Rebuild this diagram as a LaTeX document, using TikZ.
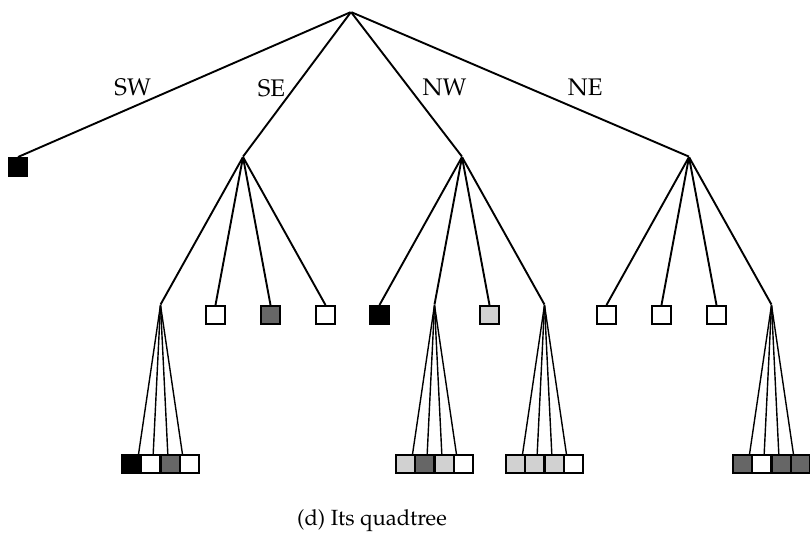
\documentclass[tikz,border=0pt]{standalone}
\usepackage[T1]{fontenc}
\usepackage{mathpazo}
\usetikzlibrary{calc}
\begin{document}
\begin{tikzpicture}[font=\fontsize{12}{14}\selectfont, child anchor=north,
    edge from parent/.style={draw, line width=0.95pt}]
      \tikzstyle{branch node}=[inner sep=0, minimum size=0]
      \tikzstyle{quad}=[draw, line width=0.9pt, minimum size=9.2pt, inner sep=0, anchor=north]
      \tikzstyle{black quad}=[quad, fill=black]
      \tikzstyle{white quad}=[quad, fill=white]
      \tikzstyle{dark quad}=[quad, fill=black!60]
      \tikzstyle{light quad}=[quad, fill=black!18]
      \tikzstyle{level 1}=[level distance=72.5pt, sibling distance=111pt]
      \tikzstyle{level 2}=[level distance=74pt, sibling distance=27.5pt]
      % leaf rows: the four edges meet the squares a bit inward
      \tikzstyle{level 3}=[level distance=74.5pt, sibling distance=9.75pt,
          edge from parent/.style={draw, line width=0.7pt},
          edge from parent path={(\tikzparentnode) --
              ($(\tikzchildnode.north)!.25!(\tikzparentnode |- \tikzchildnode.north)$)}]

      \useasboundingbox (0,0) rectangle (405pt,-268.5pt);

      \node(0)[branch node] at (175.5pt,-6pt) {}
          child{node(1)[black quad]{}
              edge from parent node[pos=.6, anchor=south east, inner sep=1pt, xshift=1.5pt]{SW}
          }
          child[xshift=1.5pt]{node(2)[branch node]{}
              child{node(21)[branch node]{}
                  child{node[black quad]{}}
                  child{node[white quad]{}}
                  child{node[dark quad]{}}
                  child{node[white quad]{}}
              }
              child{node(22)[white quad]{}}
              child{node(23)[dark quad]{}}
              child{node(24)[white quad]{}}
              edge from parent node[pos=.61, anchor=south east, inner sep=1pt, xshift=1.5pt]{SE}
          }
          child{node(3)[branch node]{}
              child{node(31)[black quad]{}}
              child{node(32)[branch node]{}
                  child{node[light quad]{}}
                  child{node[dark quad]{}}
                  child{node[light quad]{}}
                  child{node[white quad]{}}
              }
              child{node(33)[light quad]{}}
              child{node(34)[branch node]{}
                  child{node[light quad]{}}
                  child{node[light quad]{}}
                  child{node[light quad]{}}
                  child{node[white quad]{}}
              }
              edge from parent node[pos=.6, anchor=south west, inner sep=1pt, xshift=1pt]{NW}
          }
          child[xshift=2.5pt]{node(4)[branch node]{}
              child{node(41)[white quad]{}}
              child{node(42)[white quad]{}}
              child{node(43)[white quad]{}}
              child{node(44)[branch node]{}
                  child{node[dark quad]{}}
                  child{node[white quad]{}}
                  child{node[dark quad]{}}
                  child{node[dark quad]{}}
              }
              edge from parent node[pos=.6, anchor=south west, inner sep=1pt, xshift=5.5pt]{NE}
          };

      \node(cap)[font=\fontsize{11}{13}\selectfont] at (186pt,-260.5pt) {(d) Its quadtree};
\end{tikzpicture}
\end{document}
